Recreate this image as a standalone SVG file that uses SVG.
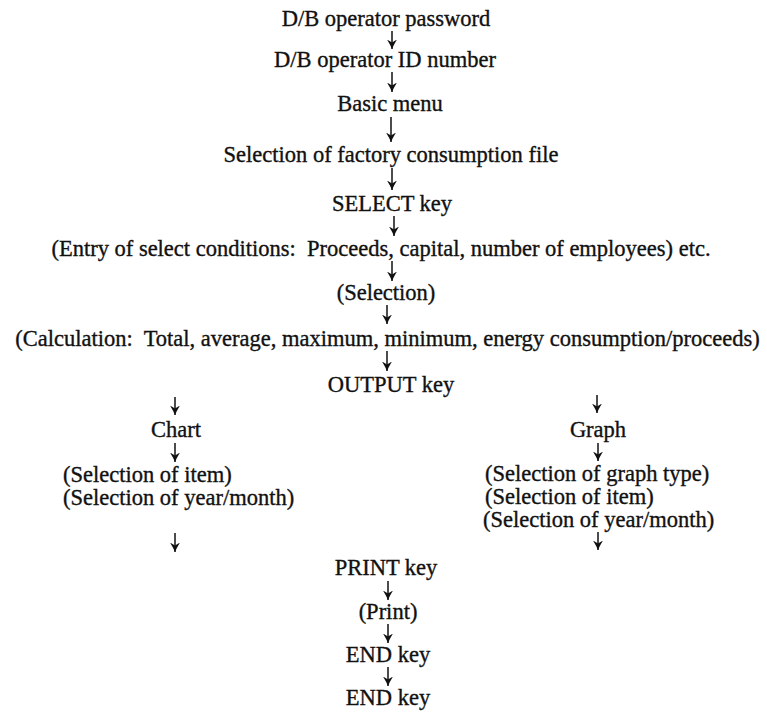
<svg xmlns="http://www.w3.org/2000/svg" width="767" height="714" viewBox="0 0 767 714">
  <defs>
    <style>
      .t { font-family: "Liberation Serif", "Times New Roman", serif; font-size: 22.5px; fill: #111; stroke: #111; stroke-width: 0.35; }
      .c { text-anchor: middle; }
      .arr { stroke: #111; stroke-width: 1.5; fill: none; marker-end: url(#head); }
    </style>
    <!-- filled arrowhead, drawn pointing along +x -->
    <marker id="head" markerUnits="userSpaceOnUse" markerWidth="10" markerHeight="11" viewBox="0 0 10 11" refX="9.5" refY="5.5" orient="auto">
      <path d="M0,0.5 Q5,3.6 9.5,5.5 Q5,7.4 0,10.5 L3,5.5 Z" fill="#111"/>
    </marker>
  </defs>
  <rect width="767" height="714" fill="#fff"/>

  <!-- main column -->
  <g id="n-password"><text class="t c" x="386" y="26">D/B operator password</text></g>
  <g id="n-id"><text class="t c" x="385" y="67">D/B operator ID number</text></g>
  <g id="n-menu"><text class="t c" x="390" y="111">Basic menu</text></g>
  <g id="n-file"><text class="t c" x="391" y="162">Selection of factory consumption file</text></g>
  <g id="n-select"><text class="t c" x="392" y="211">SELECT key</text></g>
  <g id="n-conditions"><text class="t c" x="381" y="256" xml:space="preserve">(Entry of select conditions:  Proceeds, capital, number of employees) etc.</text></g>
  <g id="n-selection"><text class="t c" x="386" y="300">(Selection)</text></g>
  <g id="n-calculation"><text class="t c" x="387.5" y="346" xml:space="preserve">(Calculation:  Total, average, maximum, minimum, energy consumption/proceeds)</text></g>
  <g id="n-output"><text class="t c" x="391" y="392">OUTPUT key</text></g>

  <!-- chart branch -->
  <g id="n-chart"><text class="t c" x="176" y="437">Chart</text></g>
  <g id="n-chart-options">
    <text class="t" x="63" y="482">(Selection of item)</text>
    <text class="t" x="63" y="505">(Selection of year/month)</text>
  </g>

  <!-- graph branch -->
  <g id="n-graph"><text class="t c" x="598" y="437">Graph</text></g>
  <g id="n-graph-options">
    <text class="t" x="485" y="481">(Selection of graph type)</text>
    <text class="t" x="485" y="504">(Selection of item)</text>
    <text class="t" x="483" y="527">(Selection of year/month)</text>
  </g>

  <!-- closing steps -->
  <g id="n-print-key"><text class="t c" x="386" y="575">PRINT key</text></g>
  <g id="n-print"><text class="t c" x="388" y="619">(Print)</text></g>
  <g id="n-end1"><text class="t c" x="388" y="662">END key</text></g>
  <g id="n-end2"><text class="t c" x="388" y="705">END key</text></g>

  <!-- connectors -->
  <g id="connectors">
    <path class="arr" d="M392,31 V49"/>
    <path class="arr" d="M392,72 V92"/>
    <path class="arr" d="M391,117 V142"/>
    <path class="arr" d="M392,168 V190"/>
    <path class="arr" d="M394,216 V236"/>
    <path class="arr" d="M392,261 V281"/>
    <path class="arr" d="M387,305 V324"/>
    <path class="arr" d="M387,351 V371"/>
    <path class="arr" d="M175,397 V415"/>
    <path class="arr" d="M597,395 V413"/>
    <path class="arr" d="M175,443 V462"/>
    <path class="arr" d="M598,443 V461"/>
    <path class="arr" d="M175,533 V552"/>
    <path class="arr" d="M598,532 V550"/>
    <path class="arr" d="M388,581 V600"/>
    <path class="arr" d="M388,624 V643"/>
    <path class="arr" d="M388,667 V686"/>
  </g>
</svg>
